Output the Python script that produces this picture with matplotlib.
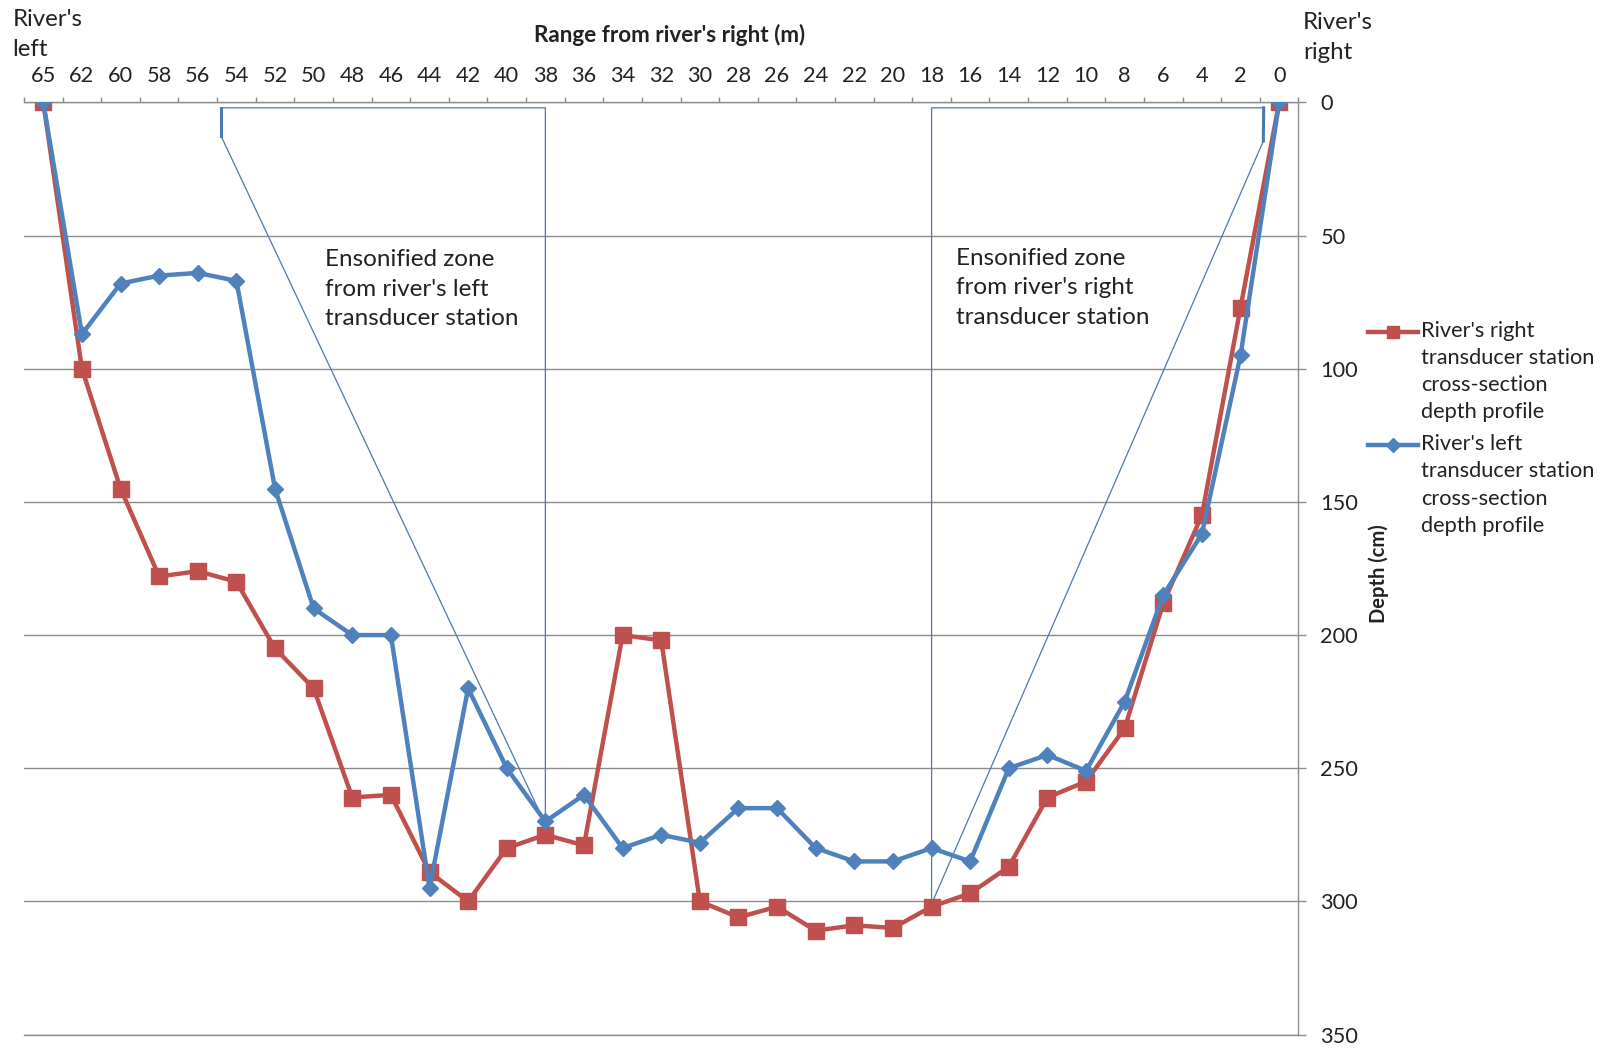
import numpy as np
import matplotlib
matplotlib.use('Agg')
import matplotlib.pyplot as plt
from matplotlib.lines import Line2D

plt.rcParams['font.family'] = ['Lato', 'DejaVu Sans']

# categories: range from river's right (m)
ranges = [65, 62, 60, 58, 56, 54, 52, 50, 48, 46, 44, 42, 40, 38, 36, 34, 32,
          30, 28, 26, 24, 22, 20, 18, 16, 14, 12, 10, 8, 6, 4, 2, 0]

# depth (cm)
right_station = [0, 100, 145, 178, 176, 180, 205, 220, 261, 260, 289, 300, 280,
                 275, 279, 200, 202, 300, 306, 302, 311, 309, 310, 302, 297,
                 287, 261, 255, 235, 188, 155, 77, 0]
left_station = [0, 87, 68, 65, 64, 67, 145, 190, 200, 200, 295, 220, 250,
                270, 260, 280, 275, 278, 265, 265, 280, 285, 285, 280, 285,
                250, 245, 251, 225, 185, 162, 95, 0]

depth_ticks = [0, 50, 100, 150, 200, 250, 300, 350]

# ensonified zone outlines (range m, depth cm)
left_zone_m = [38, 38, 54.8, 54.8, 38]
left_zone_d = [271, 2, 2, 12.5, 271]
right_zone_m = [18, 18, 0.8, 0.82, 18]
right_zone_d = [301, 2, 2, 14.5, 301]

RED = '#c0504d'
BLUE = '#4f81bd'
GRID = '#8c8c8c'
TXT = '#222222'

W, H = 1606, 1048


def m_to_idx(m):
    # category axis: map range in metres onto category position
    r = np.array(ranges[::-1], dtype=float)
    idx = np.arange(len(ranges))[::-1].astype(float)
    return np.interp(m, r, idx)


def fx(px):
    return px / W


def fy(py):
    return 1 - py / H


fig = plt.figure(figsize=(W / 100, H / 100), dpi=100)
ax = fig.add_axes([0.01494, 0.01288, 0.79356, 0.88932])

x = np.arange(len(ranges))

# zones
ax.plot(m_to_idx(left_zone_m), left_zone_d, color='#4a78b0', lw=0.9, zorder=2)
ax.plot(m_to_idx(left_zone_m[2:4]), left_zone_d[2:4], color='#4a78b0', lw=2.2, zorder=2)
ax.plot(m_to_idx(right_zone_m), right_zone_d, color='#4a78b0', lw=0.9, zorder=2)
ax.plot(m_to_idx(right_zone_m[2:4]), right_zone_d[2:4], color='#4a78b0', lw=2.2, zorder=2)

ax.plot(x, right_station, color=RED, lw=3.2, marker='s', ms=12,
        mfc=RED, mec=RED, zorder=3)
ax.plot(x, left_station, color=BLUE, lw=3.2, marker='D', ms=8.5,
        mfc=BLUE, mec=BLUE, zorder=4)

ax.set_xlim(-0.5, len(ranges) - 0.5)
ax.set_ylim(350, 0)

ax.xaxis.tick_top()
ax.set_xticks(x)
ax.set_xticklabels([str(r) for r in ranges])
ax.set_xticks(np.arange(-0.5, len(ranges), 1), minor=True)
ax.tick_params(axis='x', which='major', length=0, pad=12, labelsize=15.7,
               labelcolor=TXT)
ax.tick_params(axis='x', which='minor', direction='out', length=3.6,
               width=1.0, color=GRID, top=True, bottom=False)

ax.yaxis.tick_right()
ax.set_yticks(depth_ticks)
ax.tick_params(axis='y', direction='out', length=5.8, width=1.0, color=GRID,
               pad=10, labelsize=15.7, labelcolor=TXT)
ax.yaxis.grid(True, color=GRID, lw=1.0)

for s in ['top', 'right', 'bottom']:
    ax.spines[s].set_color(GRID)
    ax.spines[s].set_linewidth(1.0)
ax.spines['left'].set_visible(False)

# annotations
ax.text(fx(324.7), fy(289), "Ensonified zone\nfrom river's left\ntransducer station",
        transform=fig.transFigure, fontsize=17.5, linespacing=1.52,
        ha='left', va='center', color=TXT)
ax.text(fx(955.6), fy(288), "Ensonified zone\nfrom river's right\ntransducer station",
        transform=fig.transFigure, fontsize=17.5, linespacing=1.52,
        ha='left', va='center', color=TXT)

fig.text(fx(12.3), fy(34.3), "River's\nleft", fontsize=17.3, linespacing=1.52,
         ha='left', va='center', color=TXT)
fig.text(fx(1302.8), fy(37.4), "River's\nright", fontsize=17.3, linespacing=1.52,
         ha='left', va='center', color=TXT)
fig.text(fx(670), fy(35), "Range from river's right (m)", fontsize=16.2,
         fontweight='bold', ha='center', va='center', color=TXT)
fig.text(fx(1379), fy(574), "Depth (cm)", fontsize=14.5, fontweight='bold',
         rotation=90, ha='center', va='center', color=TXT)

# legend, drawn by hand so the key sits on the first text line
legend = [(RED, 's', 9, 331.7, 371.7,
           "River's right\ntransducer station\ncross-section\ndepth profile"),
          (BLUE, 'D', 7, 445, 485,
           "River's left\ntransducer station\ncross-section\ndepth profile")]
for col, mk, ms, ly, ty, lab in legend:
    fig.add_artist(Line2D([fx(1368), fx(1418)], [fy(ly), fy(ly)], color=col,
                          lw=3.2, transform=fig.transFigure))
    fig.add_artist(Line2D([fx(1393)], [fy(ly)], color=col, marker=mk, ms=ms,
                          mec=col, transform=fig.transFigure))
    fig.text(fx(1420.7), fy(ty), lab, fontsize=15.7, linespacing=1.45,
             ha='left', va='center', color=TXT)

fig.savefig('out.png', dpi=100)
